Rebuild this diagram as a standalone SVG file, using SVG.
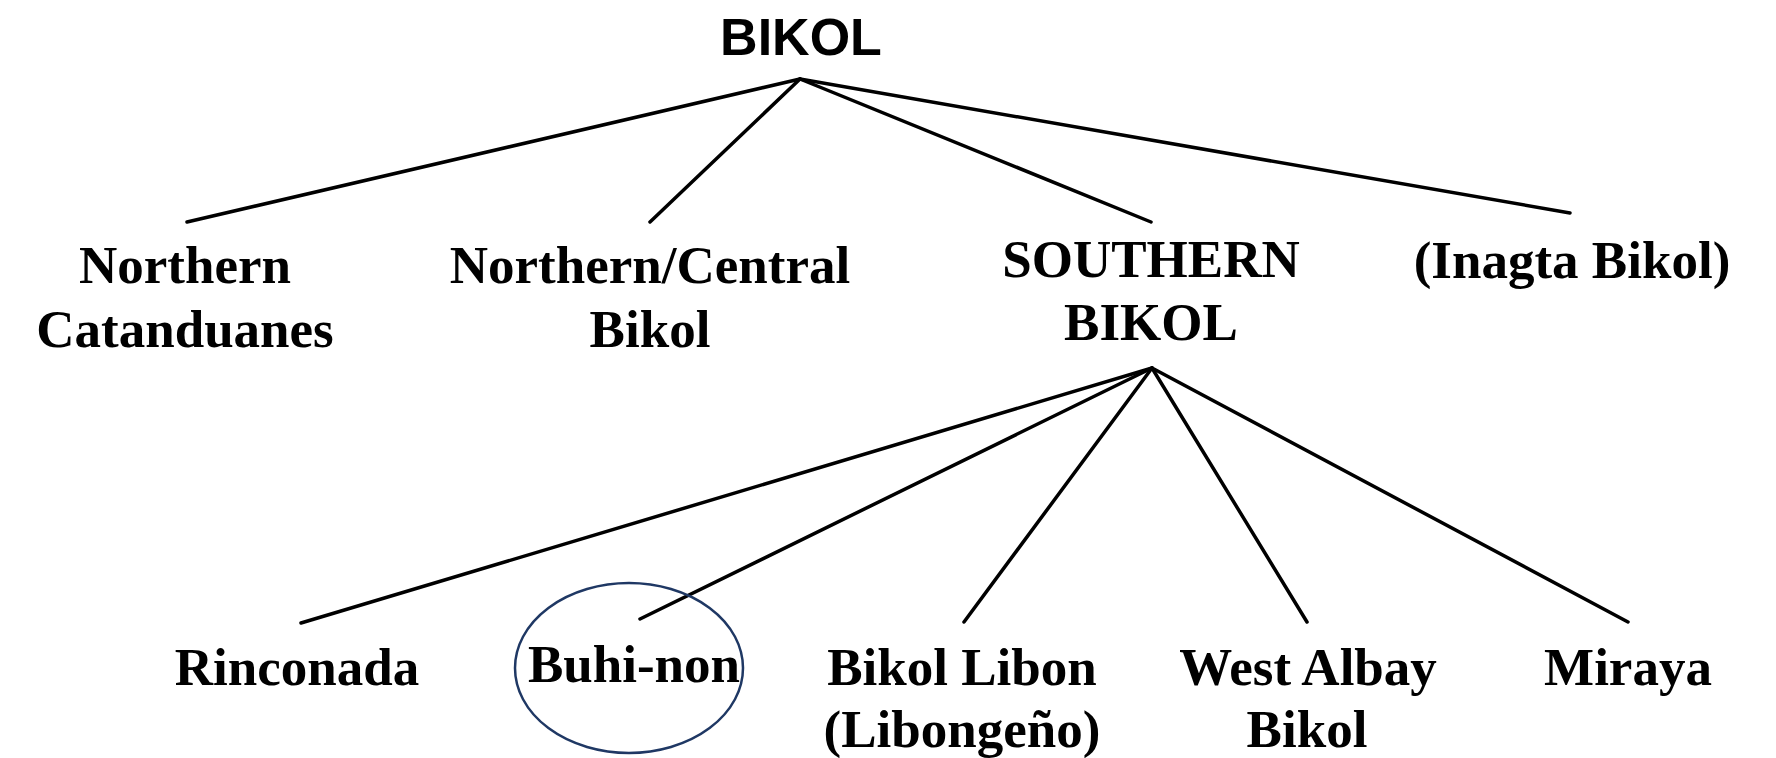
<svg xmlns="http://www.w3.org/2000/svg" width="1776" height="758" viewBox="0 0 1776 758">
<style>
.lbl{font-family:"Liberation Serif","Times New Roman",serif;font-weight:bold;font-size:53px;fill:#000;text-anchor:middle}
.root{font-family:"Liberation Sans",Arial,sans-serif;font-weight:bold;font-size:52px;fill:#000;text-anchor:middle}
.edge{stroke:#000;stroke-width:3.5;fill:none;stroke-linecap:round}
</style>
<rect width="1776" height="758" fill="#fff"/>
<g id="connectors">
<line class="edge" x1="800" y1="79" x2="187" y2="222"/>
<line class="edge" x1="800" y1="79" x2="650" y2="222"/>
<line class="edge" x1="800" y1="79" x2="1151" y2="222"/>
<line class="edge" x1="800" y1="79" x2="1570" y2="213"/>
<line class="edge" x1="1152" y1="368" x2="301" y2="623"/>
<line class="edge" x1="1152" y1="368" x2="640" y2="619"/>
<line class="edge" x1="1152" y1="368" x2="964" y2="622"/>
<line class="edge" x1="1152" y1="368" x2="1307" y2="622"/>
<line class="edge" x1="1152" y1="368" x2="1628" y2="622"/>
</g>
<g id="bikol"><text class="root" x="801" y="55">BIKOL</text></g>
<g id="northern-catanduanes"><text class="lbl" x="185" y="283">Northern</text><text class="lbl" x="185" y="347">Catanduanes</text></g>
<g id="northern-central"><text class="lbl" x="650" y="283">Northern/Central</text><text class="lbl" x="650" y="347">Bikol</text></g>
<g id="southern-bikol"><text class="lbl" x="1151" y="277">SOUTHERN</text><text class="lbl" x="1151" y="340">BIKOL</text></g>
<g id="inagta"><text class="lbl" x="1572" y="278">(Inagta Bikol)</text></g>
<g id="rinconada"><text class="lbl" x="297" y="685">Rinconada</text></g>
<g id="buhi-non"><text class="lbl" x="634" y="682">Buhi-non</text><ellipse cx="629" cy="668" rx="114" ry="85" fill="none" stroke="#1f3864" stroke-width="2.5"/></g>
<g id="bikol-libon"><text class="lbl" x="962" y="685">Bikol Libon</text><text class="lbl" x="962" y="747">(Libongeño)</text></g>
<g id="west-albay"><text class="lbl" x="1308" y="685">West Albay</text><text class="lbl" x="1307" y="747">Bikol</text></g>
<g id="miraya"><text class="lbl" x="1628" y="685">Miraya</text></g>
</svg>
